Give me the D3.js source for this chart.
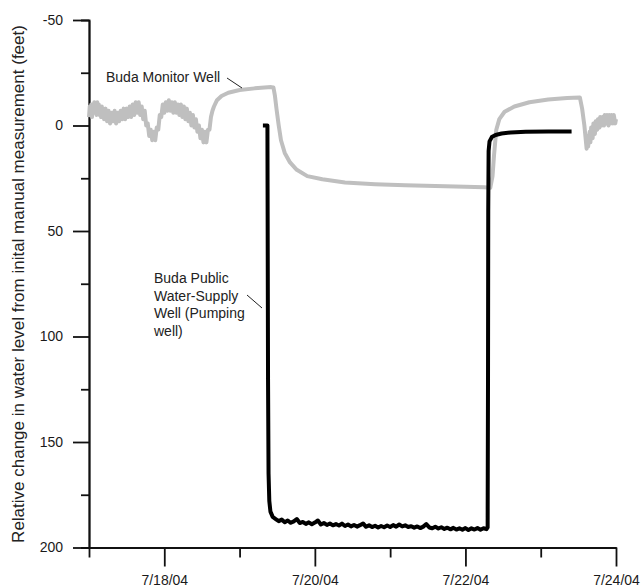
<!DOCTYPE html>
<html>
<head>
<meta charset="utf-8">
<script src="https://cdn.jsdelivr.net/npm/d3@7"></script>
<style>
  body { margin: 0; background: #fff; }
  svg { display: block; font-family: "Liberation Sans", Arial, Helvetica, sans-serif; }
</style>
</head>
<body>
<svg id="chart" width="642" height="588"></svg>
<script>
// days since 7/17/04 00:00, change in water level (feet, positive = down)
const monitorWell = [
  [0.00, -4], [0.01, -9], [0.02, -5], [0.03, -10], [0.04, -4], [0.05, -9], [0.06, -6],
  [0.07, -11], [0.08, -6], [0.09, -10], [0.10, -5], [0.11, -11], [0.12, -6], [0.13, -10],
  [0.14, -5], [0.15, -9], [0.16, -4], [0.17, -9], [0.18, -4], [0.19, -8], [0.20, -3],
  [0.22, -8], [0.24, -2], [0.26, -7], [0.28, -1], [0.30, -6], [0.32, -2], [0.34, -7],
  [0.36, -1], [0.38, -6], [0.40, -2], [0.42, -7], [0.44, -3], [0.46, -8], [0.48, -3],
  [0.50, -8], [0.52, -4], [0.54, -9], [0.56, -4], [0.58, -10], [0.60, -5], [0.62, -11],
  [0.64, -6], [0.66, -11], [0.68, -5], [0.70, -9], [0.72, -3], [0.74, -7], [0.76, 0],
  [0.78, -1], [0.80, 5], [0.82, 2], [0.84, 7], [0.86, 3], [0.88, 7], [0.90, 1],
  [0.92, 2], [0.94, -5], [0.96, -4], [0.98, -10], [1.00, -6], [1.02, -11], [1.04, -7],
  [1.06, -12], [1.08, -7], [1.10, -11], [1.12, -6], [1.14, -11], [1.16, -6], [1.18, -10],
  [1.20, -5], [1.22, -10], [1.24, -4], [1.26, -9], [1.28, -3], [1.30, -8], [1.32, -2],
  [1.34, -6], [1.36, 0], [1.38, -5], [1.40, 1], [1.42, -3], [1.44, 3], [1.46, 0],
  [1.48, 6], [1.50, 2], [1.52, 8], [1.54, 3], [1.56, 8], [1.58, 2], [1.60, 2],
  [1.62, -4], [1.64, -7],
  [1.66, -9], [1.70, -12], [1.76, -14], [1.85, -15.5], [2.00, -16.8], [2.20, -17.6],
  [2.42, -18.2], [2.45, -18], [2.47, -14], [2.49, -8], [2.52, 0], [2.55, 7], [2.60, 13],
  [2.67, 17.5], [2.76, 21], [2.90, 24], [3.10, 25.5], [3.40, 27], [3.80, 27.8],
  [4.20, 28.3], [4.60, 28.7], [5.00, 29], [5.25, 29.3], [5.33, 29.5], [5.36, 24],
  [5.38, 14], [5.41, 2], [5.45, -3], [5.52, -6.5], [5.65, -9], [5.85, -11], [6.10, -12.3],
  [6.35, -13], [6.52, -13.3], [6.55, -8], [6.58, 0], [6.61, 11], [6.62, 5], [6.63, 10],
  [6.65, 3], [6.66, 8], [6.67, 1], [6.69, 6], [6.70, -1], [6.72, 4], [6.73, -2],
  [6.75, 2], [6.76, -3], [6.78, 1], [6.79, -4], [6.81, 0], [6.82, -4], [6.84, 0],
  [6.85, -5], [6.87, -1], [6.88, -5], [6.90, 0], [6.91, -5], [6.93, -1], [6.94, -5],
  [6.96, -1], [6.97, -5], [6.99, -1], [7.00, -3]
];

const pumpingWell = [
  [2.31, 0], [2.37, 0], [2.372, 30], [2.378, 120], [2.385, 165], [2.395, 178],
  [2.41, 183], [2.44, 185.5], [2.48, 186.5], [2.52, 187.5], [2.56, 186.8], [2.60, 188],
  [2.64, 187.2], [2.68, 188.3], [2.72, 187.6], [2.76, 186.5], [2.80, 188.4], [2.84, 187.9],
  [2.88, 188.8], [2.92, 188.1], [2.96, 189], [3.00, 188.2], [3.04, 187.2], [3.08, 189.1],
  [3.12, 188.4], [3.16, 189.3], [3.20, 188.6], [3.24, 189.5], [3.28, 188.9], [3.32, 189.6],
  [3.36, 188.7], [3.40, 189.8], [3.44, 189.1], [3.48, 190], [3.52, 189.3], [3.56, 190.1],
  [3.60, 189.4], [3.64, 188.6], [3.68, 190.2], [3.72, 189.5], [3.76, 190.3], [3.80, 189.7],
  [3.84, 190.5], [3.88, 189.8], [3.92, 190.4], [3.96, 189.6], [4.00, 190.3], [4.04, 189.4],
  [4.08, 190.1], [4.12, 189.1], [4.16, 190], [4.20, 189.5], [4.24, 190.3], [4.28, 189.9],
  [4.32, 190.6], [4.36, 190], [4.40, 190.8], [4.44, 190.1], [4.48, 188.9], [4.52, 190.5],
  [4.56, 190.9], [4.60, 190.2], [4.64, 191], [4.68, 190.4], [4.72, 191.2], [4.76, 190.6],
  [4.80, 191.4], [4.84, 190.7], [4.88, 191.5], [4.92, 190.9], [4.96, 191.6], [5.00, 190.8],
  [5.04, 191.7], [5.08, 190.9], [5.12, 191.5], [5.16, 190.8], [5.20, 191.6], [5.24, 190.9],
  [5.28, 191.3], [5.295, 190.5], [5.30, 120], [5.303, 40], [5.308, 12], [5.32, 7.5],
  [5.35, 5.5], [5.40, 4.5], [5.48, 3.8], [5.60, 3.3], [5.80, 3], [6.10, 2.9], [6.41, 2.8]
];

const yMajor = [-50, 0, 50, 100, 150, 200];
const yMinor = [-25, 25, 75, 125, 175];
const xMajorDays = [18, 20, 22, 24];
const xMinorDays = [17, 19, 21, 23];
const yTitle = "Relative change in water level from inital manual measurement (feet)";
const monitorLabel = ["Buda Monitor Well"];
const pumpingLabel = ["Buda Public", "Water-Supply", "Well (Pumping", "well)"];

const svg = d3.select("#chart");
const t0 = new Date(2004, 6, 17);
const toDate = d => new Date(t0.getTime() + d * 864e5);

const x = d3.scaleTime().domain([t0, new Date(2004, 6, 24)]).range([89, 616]);
const y = d3.scaleLinear().domain([-50, 200]).range([20, 547.5]);

// Y axis: minor then major ticks
svg.append("g")
  .attr("transform", "translate(89,0)")
  .call(d3.axisLeft(y).tickValues(yMinor).tickSize(8).tickFormat(""));
svg.append("g")
  .attr("transform", "translate(89,0)")
  .call(d3.axisLeft(y).tickValues(yMajor).tickSize(16).tickSizeOuter(0).tickPadding(10)
    .tickFormat(d => String(d)));

// X axis
svg.append("g")
  .attr("transform", "translate(0,547.5)")
  .call(d3.axisBottom(x).tickValues(xMinorDays.map(d => new Date(2004, 6, d)))
    .tickSize(10).tickSizeOuter(0).tickFormat(""));
svg.append("g")
  .attr("transform", "translate(0,547.5)")
  .call(d3.axisBottom(x).tickValues(xMajorDays.map(d => new Date(2004, 6, d)))
    .tickSize(19).tickSizeOuter(0).tickPadding(9).tickFormat(d3.timeFormat("%-m/%-d/%y")));

svg.selectAll(".domain, .tick line").attr("stroke", "#111").attr("stroke-width", 1.8);
svg.selectAll(".tick text").attr("font-size", 14).attr("fill", "#1a1a1a")
  .attr("font-family", "Liberation Sans, Arial, sans-serif");

svg.append("text")
  .attr("transform", "translate(24,284) rotate(-90)")
  .attr("text-anchor", "middle")
  .attr("font-size", 17)
  .attr("fill", "#222")
  .text(yTitle);

const line = d3.line().x(d => x(toDate(d[0]))).y(d => y(d[1]));

svg.append("path")
  .datum(monitorWell)
  .attr("d", line)
  .attr("fill", "none")
  .attr("stroke", "#bfbfbf")
  .attr("stroke-width", 4)
  .attr("stroke-linejoin", "round");

svg.append("path")
  .datum(pumpingWell)
  .attr("d", line)
  .attr("fill", "none")
  .attr("stroke", "#000")
  .attr("stroke-width", 4)
  .attr("stroke-linejoin", "round");

// annotations
svg.append("text")
  .attr("x", 106).attr("y", 82)
  .attr("font-size", 14).attr("fill", "#222")
  .text(monitorLabel[0]);
svg.append("line")
  .attr("x1", 227).attr("y1", 78).attr("x2", 242).attr("y2", 88)
  .attr("stroke", "#222").attr("stroke-width", 1);

svg.append("g").selectAll("text")
  .data(pumpingLabel)
  .enter()
  .append("text")
  .attr("x", 154)
  .attr("y", (d, i) => 283 + i * 17.5)
  .attr("font-size", 14).attr("fill", "#222")
  .text(d => d);
svg.append("line")
  .attr("x1", 247).attr("y1", 295).attr("x2", 262).attr("y2", 308)
  .attr("stroke", "#222").attr("stroke-width", 1);
</script>
</body>
</html>
